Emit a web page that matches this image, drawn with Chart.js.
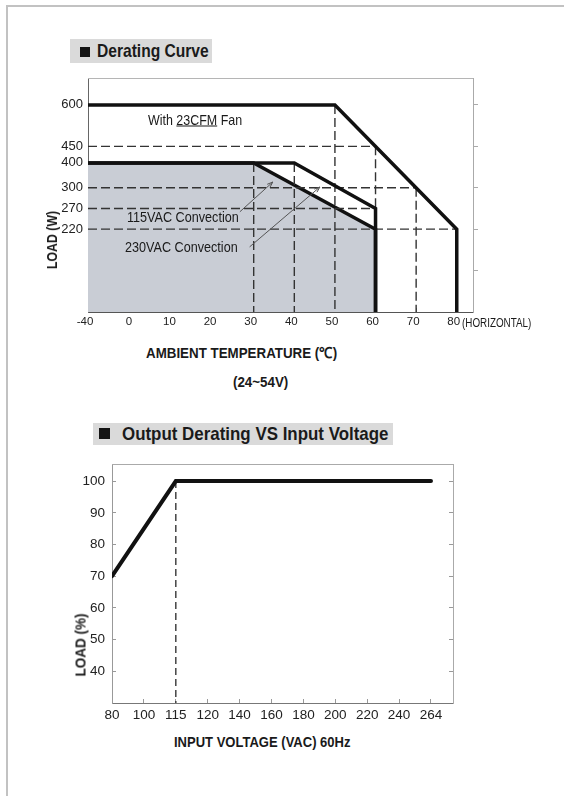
<!DOCTYPE html>
<html lang="en">
<head>
<meta charset="UTF-8" />
<title>Derating Curve</title>
<style>
  body { margin: 0; background: #fff; }
  #page {
    position: relative; width: 564px; height: 796px; overflow: hidden;
    font-family: "Liberation Sans", Arial, sans-serif;
    color: #1a1a1a;
  }
  .edge { position: absolute; left: 6px; top: 5px; width: 560px; height: 800px;
    border-left: 2px solid #c2c2c2; border-top: 2px solid #c2c2c2; }
  .box { position: absolute; background: #dadada; font-weight: bold; white-space: nowrap; }
  .box i { position: absolute; background: #141414; }
  .box span { position: absolute; transform-origin: 0 50%; }
  .t { position: absolute; white-space: nowrap; transform-origin: 0 50%; }
  .b { font-weight: bold; }
  .rot { position: absolute; white-space: nowrap; font-weight: bold; }
  canvas { position: absolute; left: 0; }
</style>
<script src="https://cdn.jsdelivr.net/npm/chart.js"></script>
</head>
<body>
<div id="page">
  <div class="edge"></div>

  <!-- chart 1 -->
  <div class="box" style="left:70px;top:39px;width:142px;height:24px;">
    <i style="left:10px;top:8px;width:10px;height:10px;"></i>
    <span style="left:27px;top:0;font-size:19px;line-height:24px;transform:scaleX(0.82);">Derating Curve</span>
  </div>
  <canvas id="derating" width="564" height="340" style="top:0"></canvas>
  <div class="t" style="left:148px;top:119px;font-size:15px;transform:translateY(-50%) scaleX(0.83);">With <u>23CFM</u> Fan</div>
  <div class="t" style="left:127px;top:217px;font-size:14.5px;transform:translateY(-50%) scaleX(0.87);">115VAC Convection</div>
  <div class="t" style="left:125px;top:247px;font-size:14.5px;transform:translateY(-50%) scaleX(0.87);">230VAC Convection</div>
  <div class="rot" style="left:52px;top:240px;font-size:14px;transform:translate(-50%,-50%) rotate(-90deg) scaleX(0.88);">LOAD (W)</div>
  <div class="t" style="left:462px;top:323px;font-size:12px;transform:translateY(-50%) scaleX(0.82);">(HORIZONTAL)</div>
  <div class="t b" style="left:146px;top:352px;font-size:15px;transform:translateY(-50%) scaleX(0.89);">AMBIENT TEMPERATURE (℃)</div>
  <div class="t b" style="left:233px;top:381px;font-size:15px;transform:translateY(-50%) scaleX(0.89);">(24~54V)</div>

  <!-- chart 2 -->
  <div class="box" style="left:93px;top:423px;width:300px;height:22px;">
    <i style="left:6px;top:5px;width:11px;height:11px;"></i>
    <span style="left:29px;top:0;font-size:19px;line-height:22px;transform:scaleX(0.89);">Output Derating VS Input Voltage</span>
  </div>
  <canvas id="voltage" width="564" height="330" style="top:400px"></canvas>
  <div class="rot" style="left:80px;top:645px;font-size:15px;transform:translate(-50%,-50%) rotate(-90deg) scaleX(0.9);">LOAD (%)</div>
  <div class="t b" style="left:174px;top:742px;font-size:15.5px;transform:translateY(-50%) scaleX(0.84);">INPUT VOLTAGE (VAC) 60Hz</div>
</div>

<script>
  // ---- derating curve data (temperature in C, load in W) ----
  const tempTicks = [-40, 0, 10, 20, 30, 40, 50, 60, 70, 80];
  const loadTicks = [220, 270, 300, 400, 450, 600];

  const fanTemp = [-40, 50, 80, 80];
  const fanLoad = [600, 600, 220, 0];
  const conv230Temp = [-40, 40, 60, 60];
  const conv230Load = [400, 400, 270, 0];
  const conv115Temp = [-40, 30, 60, 60];
  const conv115Load = [400, 400, 220, 0];

  // dashed guide lines
  const hGuideLoads = [450, 300, 270, 220];
  const hGuideEnds = [60, 70, 60, 80];
  const vGuideTemps = [30, 40, 50, 60, 70];
  const vGuideTops = [400, 400, 600, 450, 300];
  const vGuideBottoms = [0, 0, 0, 270, 0];

  // ---- output derating vs input voltage ----
  const voltTicks = [80, 100, 115, 120, 140, 160, 180, 200, 220, 240, 264];
  const pctTicks = [40, 50, 60, 70, 80, 90, 100];
  const curveVolt = [80, 115, 264];
  const curveLoad = [70, 100, 100];

  // the drawing's axes are not linear: each axis is a list of [value, slot] stops
  const AXES = {
    temp: { stops: [[-40, 0], [0, 1.08], [80, 9.08]], extent: [0, 9.48], ticks: tempTicks },
    load: { stops: [[0, 0], [220, 2], [270, 2.5], [300, 3], [400, 3.6], [450, 4], [600, 5]], extent: [0, 5.65], ticks: loadTicks },
    volt: { stops: voltTicks.map((v, i) => [v, i]), extent: [0, 10.69], ticks: voltTicks }
  };

  function toSlot(v, stops) {
    let i = 1;
    while (i < stops.length - 1 && v > stops[i][0]) i++;
    const [v0, p0] = stops[i - 1], [v1, p1] = stops[i];
    return p0 + (v - v0) * (p1 - p0) / (v1 - v0);
  }

  class BrokenScale extends Chart.LinearScale {
    buildTicks() {
      return AXES[this.id].ticks.map(v => ({ value: v }));
    }
    getPixelForValue(value) {
      const a = AXES[this.id];
      const p = toSlot(value, a.stops);
      return this.getPixelForDecimal((p - a.extent[0]) / (a.extent[1] - a.extent[0]));
    }
    getValueForPixel(pixel) {
      const a = AXES[this.id];
      const p = a.extent[0] + this.getDecimalForPixel(pixel) * (a.extent[1] - a.extent[0]);
      const inv = a.stops.map(s => [s[1], s[0]]);
      return toSlot(p, inv);
    }
  }
  BrokenScale.id = 'broken';
  BrokenScale.defaults = Chart.LinearScale.defaults;
  Chart.register(BrokenScale);

  const FONT = '"Liberation Sans", Arial, sans-serif';

  const pts = (xs, ys) => xs.map((x, i) => ({ x: x, y: ys[i] }));
  const solid = (xs, ys, w) => ({
    data: pts(xs, ys), borderColor: '#111', borderWidth: w, pointRadius: 0,
    fill: false, borderJoinStyle: 'miter', borderCapStyle: 'butt'
  });
  const dashed = (xs, ys, dash) => ({
    data: pts(xs, ys), borderColor: '#333', borderWidth: 1.4, borderDash: dash,
    pointRadius: 0, fill: false
  });
  const fixSize = (w, h) => (s) => { if (w != null) s.width = w; if (h != null) s.height = h; };

  // top edge of the plot frame (the axes draw the other three)
  const topEdge = {
    id: 'topEdge',
    afterDraw(chart, args, opts) {
      const { ctx, chartArea: a } = chart;
      ctx.save();
      ctx.strokeStyle = opts.color;
      ctx.lineWidth = 1;
      ctx.beginPath();
      ctx.moveTo(a.left, a.top + 0.5);
      ctx.lineTo(a.right, a.top + 0.5);
      ctx.stroke();
      ctx.restore();
    }
  };

  // thin callout arrows for the convection labels, given in data units
  const calloutFrom = [[26.6, 262], [29, 173]];
  const calloutTo = [[34.7, 323], [46.3, 303]];
  const callouts = {
    id: 'callouts',
    afterDatasetsDraw(chart) {
      const { ctx } = chart;
      const xs = chart.scales.temp, ys = chart.scales.load;
      ctx.save();
      ctx.strokeStyle = '#555';
      ctx.lineWidth = 1;
      calloutFrom.forEach((f, i) => {
        const x0 = xs.getPixelForValue(f[0]), y0 = ys.getPixelForValue(f[1]);
        const x1 = xs.getPixelForValue(calloutTo[i][0]), y1 = ys.getPixelForValue(calloutTo[i][1]);
        const ang = Math.atan2(y1 - y0, x1 - x0);
        ctx.beginPath();
        ctx.moveTo(x0, y0);
        ctx.lineTo(x1, y1);
        ctx.moveTo(x1 - 6 * Math.cos(ang - 0.35), y1 - 6 * Math.sin(ang - 0.35));
        ctx.lineTo(x1, y1);
        ctx.lineTo(x1 - 6 * Math.cos(ang + 0.35), y1 - 6 * Math.sin(ang + 0.35));
        ctx.stroke();
      });
      ctx.restore();
    }
  };

  // ---------- chart 1 ----------
  const d1 = [
    solid(fanTemp, fanLoad, 3.5),
    solid(conv230Temp, conv230Load, 3.5)
  ];
  hGuideLoads.forEach((l, i) => d1.push(dashed([-40, hGuideEnds[i]], [l, l], [9, 4])));
  vGuideTemps.forEach((t, i) => d1.push(dashed([t, t], [vGuideTops[i], vGuideBottoms[i]], [9, 4])));
  // shaded convection area is drawn first, so it goes last
  d1.push(Object.assign(solid(conv115Temp, conv115Load, 3.5), { fill: 'origin', backgroundColor: '#c9cdd5' }));
  d1.forEach(d => { d.xAxisID = 'temp'; d.yAxisID = 'load'; });

  new Chart(document.getElementById('derating'), {
    type: 'line',
    data: { datasets: d1 },
    options: {
      responsive: false,
      animation: false,
      events: [],
      layout: { padding: { left: 0, top: 78, right: 81, bottom: 0 } },
      plugins: {
        legend: { display: false },
        tooltip: { enabled: false },
        filler: { drawTime: 'beforeDatasetsDraw' },
        topEdge: { color: '#b5b5b5' }
      },
      scales: {
        temp: {
          type: 'broken', position: 'bottom', min: -40, max: 80,
          afterFit: fixSize(null, 28),
          border: { color: '#555', width: 1 },
          grid: { drawOnChartArea: false, tickLength: -4, color: '#888' },
          ticks: { autoSkip: false, maxRotation: 0, padding: 7, labelOffset: -3, color: '#222',
            font: { family: FONT, size: 11.5 }, callback: v => String(v) }
        },
        load: {
          type: 'broken', position: 'left', min: 0, max: 600,
          afterFit: fixSize(88, null),
          border: { color: '#666', width: 1 },
          grid: { drawOnChartArea: false, drawTicks: false },
          ticks: { autoSkip: false, padding: 5, color: '#222',
            font: { family: FONT, size: 13 }, callback: v => String(v) }
        },
        edge: {
          type: 'linear', position: 'right', min: 0, max: 5.65,
          afterFit: fixSize(10, null),
          afterBuildTicks: s => { s.ticks = [1, 2, 3, 4, 5].map(v => ({ value: v })); },
          border: { color: '#aaa', width: 1 },
          grid: { drawOnChartArea: false, tickLength: 5, color: '#aaa' },
          ticks: { display: false }
        }
      }
    },
    plugins: [topEdge, callouts]
  });

  // ---------- chart 2 ----------
  const d2 = [
    Object.assign(solid(curveVolt, curveLoad, 4), { borderCapStyle: 'round' }),
    Object.assign(dashed([115, 115], [100, 30], [7, 4]), { borderColor: '#444', borderWidth: 1.5 })
  ];
  d2.forEach(d => { d.xAxisID = 'volt'; d.yAxisID = 'pct'; });

  new Chart(document.getElementById('voltage'), {
    type: 'line',
    data: { datasets: d2 },
    options: {
      responsive: false,
      animation: false,
      events: [],
      layout: { padding: { left: 0, top: 64, right: 105, bottom: 0 } },
      plugins: {
        legend: { display: false },
        tooltip: { enabled: false },
        topEdge: { color: '#aaa' }
      },
      scales: {
        volt: {
          type: 'broken', position: 'bottom', min: 80, max: 264,
          afterFit: fixSize(null, 27),
          border: { color: '#777', width: 1 },
          grid: { drawOnChartArea: false, tickLength: -4, color: '#999' },
          ticks: { autoSkip: false, maxRotation: 0, padding: 8, color: '#222',
            font: { family: FONT, size: 13.5 }, callback: v => String(v) }
        },
        pct: {
          type: 'linear', position: 'left', min: 30, max: 105.4,
          afterFit: fixSize(112, null),
          afterBuildTicks: s => { s.ticks = pctTicks.map(v => ({ value: v })); },
          border: { color: '#999', width: 1 },
          grid: { drawOnChartArea: false, tickLength: -4, color: '#999' },
          ticks: { padding: 11, color: '#222', font: { family: FONT, size: 13.5 }, callback: v => String(v) }
        },
        pctEdge: {
          type: 'linear', position: 'right', min: 30, max: 105.4,
          afterFit: fixSize(6, null),
          afterBuildTicks: s => { s.ticks = pctTicks.map(v => ({ value: v })); },
          border: { color: '#aaa', width: 1 },
          grid: { drawOnChartArea: false, tickLength: -4, color: '#999' },
          ticks: { display: false }
        }
      }
    },
    plugins: [topEdge]
  });
</script>
</body>
</html>
